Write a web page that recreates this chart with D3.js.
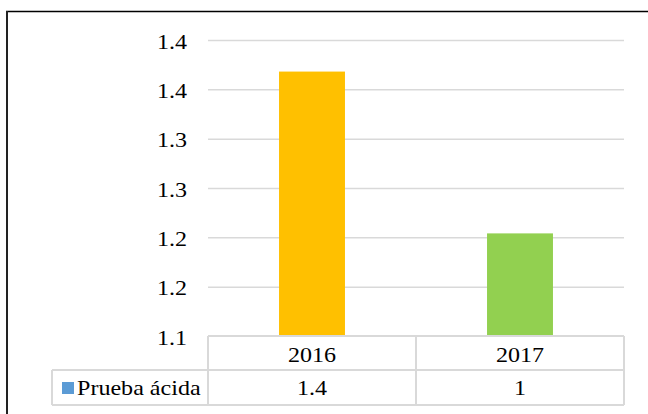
<!DOCTYPE html>
<html>
<head>
<meta charset="utf-8">
<script src="https://cdn.jsdelivr.net/npm/d3@7"></script>
<style>
  body { margin: 0; background: #fff; }
</style>
</head>
<body>
<div id="chart"></div>
<script>
// chart data
var years = ["2016", "2017"];
var values = [1.368, 1.204];
var tableValues = ["1.4", "1"];
var seriesName = "Prueba ácida";
var tickValues = [1.10, 1.15, 1.20, 1.25, 1.30, 1.35, 1.40];
var tickLabels = ["1.1", "1.2", "1.2", "1.3", "1.3", "1.4", "1.4"];
var barColors = ["#FFC000", "#92D050"];

var svgWidth = 648;
var svgHeight = 414;
var serif = "'Liberation Serif'";
var fontSize = "21.5px";
var stretchX = 1.12; // the source image is a bit wider than tall

var plot = { left: 208, right: 624, top: 40, bottom: 336 };

var svg = d3.select("#chart")
  .append("svg")
  .attr("width", svgWidth)
  .attr("height", svgHeight);

// outer frame (only top and left edges visible)
svg.append("line")
  .attr("x1", 6).attr("x2", svgWidth)
  .attr("y1", 11.5).attr("y2", 11.5)
  .attr("stroke", "#000").attr("stroke-width", 1.5);
svg.append("line")
  .attr("x1", 7).attr("x2", 7)
  .attr("y1", 11).attr("y2", svgHeight)
  .attr("stroke", "#222").attr("stroke-width", 2);

// scales
var x = d3.scaleBand()
  .domain(years)
  .range([plot.left, plot.right])
  .padding(0);

var y = d3.scaleLinear()
  .domain([1.1, 1.4])
  .range([plot.bottom, plot.top]);

var barWidth = x.bandwidth() * 0.317;

// gridlines
svg.append("g")
  .attr("class", "grid")
  .attr("transform", `translate(${plot.left},0)`)
  .call(d3.axisLeft(y)
    .tickValues(tickValues.slice(1))
    .tickSize(-(plot.right - plot.left))
    .tickFormat(""))
  .call(g => g.select(".domain").remove())
  .call(g => g.selectAll("line").attr("stroke", "#D9D9D9").attr("stroke-width", 1.5));

// text placed at (px, py), slightly stretched horizontally
function addText(sel, px, py, anchor, str) {
  return sel.append("g")
    .attr("transform", `translate(${px},${py}) scale(${stretchX},1)`)
    .append("text")
    .style("font-family", serif)
    .style("font-size", fontSize)
    .attr("fill", "#000")
    .attr("dy", "0.35em")
    .attr("text-anchor", anchor)
    .text(str);
}

// y tick labels
var yLabels = svg.append("g");
tickValues.forEach(function(v, i) {
  addText(yLabels, 187, y(v) + 1, "end", tickLabels[i]);
});

// bars
svg.append("g")
  .selectAll("rect")
  .data(values)
  .enter()
  .append("rect")
  .attr("x", (d, i) => x(years[i]) + (x.bandwidth() - barWidth) / 2)
  .attr("y", d => y(d))
  .attr("width", barWidth)
  .attr("height", d => y(1.1) - y(d))
  .attr("fill", (d, i) => barColors[i]);

// data table
var rowTop = plot.bottom;
var rowMid = 370;
var rowBottom = 405;
var tableLeft = 52;
var grid = svg.append("g")
  .attr("stroke", "#D9D9D9")
  .attr("stroke-width", 2)
  .attr("fill", "none");

grid.append("line").attr("x1", plot.left).attr("x2", plot.right).attr("y1", rowTop).attr("y2", rowTop);
grid.append("line").attr("x1", tableLeft).attr("x2", plot.right).attr("y1", rowMid).attr("y2", rowMid);
grid.append("line").attr("x1", tableLeft).attr("x2", plot.right).attr("y1", rowBottom).attr("y2", rowBottom);
grid.append("line").attr("x1", tableLeft).attr("x2", tableLeft).attr("y1", rowMid).attr("y2", rowBottom);
[plot.left, x("2017"), plot.right].forEach(function(px) {
  grid.append("line").attr("x1", px).attr("x2", px).attr("y1", rowTop).attr("y2", rowBottom);
});

// category labels and table values
var cells = svg.append("g");
years.forEach(function(yr, i) {
  var cx = x(yr) + x.bandwidth() / 2;
  addText(cells, cx, (rowTop + rowMid) / 2 + 1, "middle", yr);
  addText(cells, cx, (rowMid + rowBottom) / 2, "middle", tableValues[i]);
});

// legend key + series name
svg.append("rect")
  .attr("x", 62).attr("y", 382)
  .attr("width", 12).attr("height", 12)
  .attr("fill", "#5B9BD5");
addText(svg, 77, (rowMid + rowBottom) / 2, "start", seriesName);
</script>
</body>
</html>
